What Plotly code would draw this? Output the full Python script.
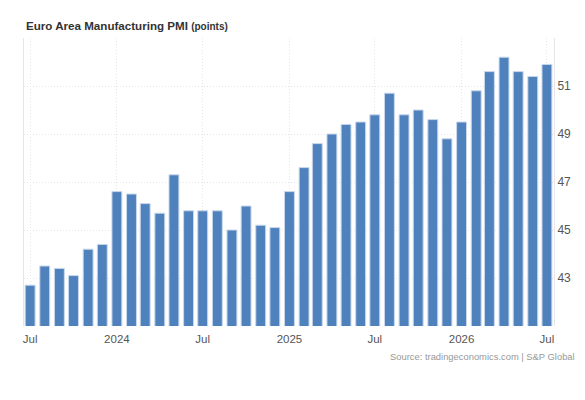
import pandas as pd
import plotly.graph_objects as go

# Monthly readings, Jul 2023 .. Jul 2026
months = pd.date_range("2023-07-01", "2026-07-01", freq="MS")
pmi_values = [42.7, 43.5, 43.4, 43.1, 44.2, 44.4,
              46.6, 46.5, 46.1, 45.7, 47.3, 45.8, 45.8, 45.8, 45.0, 46.0, 45.2, 45.1,
              46.6, 47.6, 48.6, 49.0, 49.4, 49.5, 49.8, 50.7, 49.8, 50.0, 49.6, 48.8,
              49.5, 50.8, 51.6, 52.2, 51.6, 51.4, 51.9]
x_tick_dates = ["2023-07-01", "2024-01-01", "2024-07-01", "2025-01-01",
                "2025-07-01", "2026-01-01", "2026-07-01"]
x_tick_labels = ["Jul", "2024", "Jul", "2025", "Jul", "2026", "Jul"]
y_ticks = [43, 45, 47, 49, 51, 53]
y_tick_labels = ["43", "45", "47", "49", "51", ""]

FONT = "Liberation Sans, Arial, sans-serif"
GRID = "#e6e6e6"

fig = go.Figure()
fig.add_trace(go.Bar(
    x=months, y=pmi_values,
    marker=dict(color="#4f81bd", line=dict(color="#c9d8ec", width=1)),
    hoverinfo="x+y",
))

fig.update_layout(
    width=585, height=400,
    margin=dict(l=24, r=31, t=38, b=74),
    paper_bgcolor="white", plot_bgcolor="white",
    font=dict(family=FONT, size=12, color="#555"),
    bargap=0.25,
    showlegend=False,
)
fig.update_xaxes(
    type="date",
    range=["2023-06-18", "2026-07-16"],
    tickvals=x_tick_dates, ticktext=x_tick_labels,
    showgrid=True, gridcolor=GRID, griddash="1px,2px",
    ticks="", showline=False, zeroline=False,
    ticklabelstandoff=4,
    tickfont=dict(size=11.5, color="#555"),
)
fig.update_yaxes(
    range=[41, 53], side="right",
    tickvals=y_ticks, ticktext=y_tick_labels,
    showgrid=True, gridcolor=GRID, griddash="1px,2px",
    showline=True, mirror=True, linecolor=GRID, linewidth=1,
    ticks="", zeroline=False,
    tickfont=dict(size=12, color="#555"),
)

fig.add_annotation(
    text="<b>Euro Area Manufacturing PMI</b> <b><span style='font-size:10px'>(points)</span></b>",
    xref="paper", yref="paper", x=0, y=1, yshift=4,
    xanchor="left", yanchor="bottom", showarrow=False,
    font=dict(family=FONT, size=11.6, color="#333"),
)
fig.add_annotation(
    text="Source: tradingeconomics.com | S&P Global",
    xref="paper", yref="paper", x=1, y=0, xshift=23, yshift=-38,
    xanchor="right", yanchor="bottom", showarrow=False,
    font=dict(family=FONT, size=9.4, color="#999"),
)

# drop the default page margin so the figure sits at the window's corner
fig.write_html("out.html", config={"displayModeBar": False},
               post_script="document.body.style.margin='0';")
